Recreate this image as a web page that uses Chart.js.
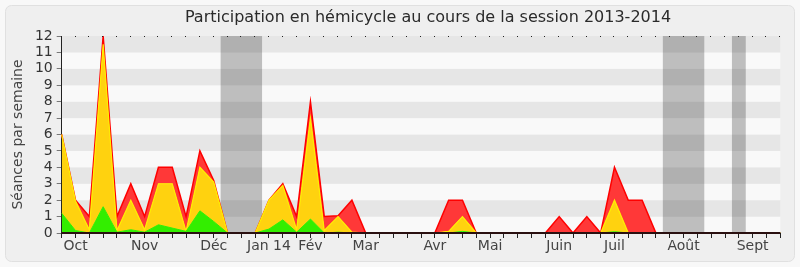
<!DOCTYPE html>
<html><head><meta charset="utf-8">
<script src="https://cdn.jsdelivr.net/npm/chart.js@4/dist/chart.umd.min.js"></script>
<style>html,body{margin:0;padding:0;background:#f8f8f8;}#wrap{width:800px;height:267px;position:relative;}</style>
</head><body><div id="wrap"><canvas id="c" width="800" height="267"></canvas></div>
<script>
const chartTitle = 'Participation en hémicycle au cours de la session 2013-2014';
const yTitle = 'Séances par semaine';
// one entry per week (53 weeks); month name where the axis shows one
const weekLabels = ['', 'Oct', '', '', '', '', 'Nov', '', '', '', '', 'Déc', '', '', '', 'Jan 14', '', '', 'Fév', '', '', '', 'Mar', '', '', '', '', 'Avr', '', '', '', 'Mai', '', '', '', '', 'Juin', '', '', '', 'Juil', '', '', '', '', 'Août', '', '', '', '', 'Sept', '', ''];
// stacked series (per week)
const green  = [1.2,0.15,0,1.6,0.05,0.2,0.05,0.5,0.3,0.1,1.35,0.7,0,0,0,0.24,0.8,0.05,0.85,0,0.05,0,0,0,0,0,0,0,0,0.1,0,0,0,0,0,0,0,0,0,0,0.08,0,0,0,0,0,0,0,0,0,0,0,0];
const yellow = [4.8,1.8,0.2,9.9,0.1,1.8,0.15,2.5,2.7,0,2.65,2.4,0,0,0,1.76,2.1,0.15,6.15,0.15,0.95,0.05,0,0,0,0,0,0,0.1,0.9,0,0,0,0,0,0,0,0,0,0,1.92,0,0,0,0,0,0,0,0,0,0,0,0];
const red    = [0,0.05,0.8,0.5,0.85,1.0,0.8,1.0,1.0,0.9,1.0,0.1,0,0,0,0,0.1,0.8,1.0,0.85,0.05,1.95,0,0,0,0,0,0,1.9,1.0,0,0,0,0,0,0,1,0,1,0,2.0,2,2,0,0,0,0,0,0,0,0,0,0];
// holiday periods (in week positions)
const holidays = [[11.5,14.5],[43.5,46.5],[48.5,49.5]];
const yMax = 12;

const bgPlugin = {
  id: 'bg',
  beforeDraw(chart) {
    const ctx = chart.ctx, a = chart.chartArea, ys = chart.scales.y, xs = chart.scales.x;
    ctx.save();
    ctx.fillStyle = '#f8f8f8';
    ctx.fillRect(0, 0, chart.width, chart.height);
    ctx.beginPath();
    ctx.roundRect(5.5, 5.5, 789, 256, 6);
    ctx.fillStyle = '#efefef';
    ctx.fill();
    ctx.strokeStyle = '#e0e0e0';
    ctx.lineWidth = 1;
    ctx.stroke();
    for (let v = 0; v < yMax; v++) {
      const y1 = ys.getPixelForValue(v + 1), y0 = ys.getPixelForValue(v);
      ctx.fillStyle = (v % 2 === 1) ? '#e6e6e6' : '#f9f9f9';
      ctx.fillRect(a.left, y1, a.right - a.left, y0 - y1);
    }
    ctx.fillStyle = 'rgba(0,0,0,0.235)';
    holidays.forEach(h => {
      const x0 = xs.getPixelForValue(h[0]), x1 = xs.getPixelForValue(h[1]);
      ctx.fillRect(x0, a.top, x1 - x0, a.bottom - a.top);
    });
    ctx.restore();
  },
  afterDraw(chart) {
    const ctx = chart.ctx, a = chart.chartArea, xs = chart.scales.x;
    ctx.save();
    // bottom axis line over the data
    ctx.fillStyle = '#2a1010';
    ctx.fillRect(a.left, a.bottom - 1, a.right - a.left, 2);
    ctx.fillStyle = '#222';
    for (let i = 0; i < weekLabels.length; i++) {
      const x = Math.round(xs.getPixelForValue(i));
      ctx.fillRect(x - 1, a.top, 1, 1);
    }
    ctx.fillStyle = '#2a2a2a';
    ctx.font = '16px "DejaVu Sans"';
    ctx.textAlign = 'center';
    ctx.textBaseline = 'middle';
    ctx.fillText(chartTitle, 428, 18);
    ctx.restore();
  }
};

const common = {pointRadius: 0, pointHoverRadius: 0, tension: 0};
new Chart(document.getElementById('c'), {
  type: 'line',
  data: {
    labels: weekLabels,
    datasets: [
      Object.assign({label: 'green', data: green, fill: 'origin', backgroundColor: '#33ee00', borderColor: '#33ee00', borderWidth: 1}, common),
      Object.assign({label: 'yellow', data: yellow, fill: '-1', backgroundColor: '#ffd20f', borderColor: '#ffee00', borderWidth: 1.2}, common),
      Object.assign({label: 'red', data: red, fill: '-1', backgroundColor: '#ff3838', borderColor: '#ff0000', borderWidth: 1.5}, common)
    ]
  },
  options: {
    responsive: false,
    animation: false,
    layout: {padding: {left: 0, top: 36, right: 19.7, bottom: 0}},
    plugins: {legend: {display: false}, tooltip: {enabled: false}, title: {display: false}},
    scales: {
      x: {
        type: 'category',
        offset: false,
        grid: {drawOnChartArea: false, drawTicks: true, tickLength: 5, tickColor: '#222'},
        border: {display: false},
        ticks: {autoSkip: false, maxRotation: 0, padding: 0, color: '#444', font: {family: 'DejaVu Sans', size: 14}},
        afterFit(s) { s.height = 34; }
      },
      y: {
        stacked: true,
        min: 0, max: yMax,
        grid: {drawOnChartArea: false, drawTicks: true, tickLength: 5, tickColor: '#777'},
        border: {color: '#222', width: 1},
        ticks: {stepSize: 1, autoSkip: false, padding: 4, color: '#333', font: {family: 'DejaVu Sans', size: 14}},
        title: {display: true, text: yTitle, color: '#444', font: {family: 'DejaVu Sans', size: 14}, padding: {top: 10, bottom: 0}},
        afterFit(s) { s.width = 61.7; }
      }
    }
  },
  plugins: [bgPlugin]
});
</script></body></html>
